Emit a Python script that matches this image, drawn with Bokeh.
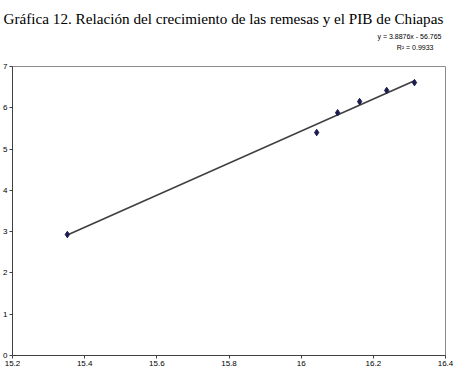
from bokeh.plotting import figure
from bokeh.models import FixedTicker, Range1d, Title
from bokeh.embed import file_html
from bokeh.resources import INLINE

# Data
remesas = [15.352, 16.043, 16.101, 16.162, 16.237, 16.314]
pib = [2.93, 5.40, 5.88, 6.15, 6.42, 6.61]
slope = 3.8876
intercept = -56.765
r2 = 0.9933
x_ticks = [15.2, 15.4, 15.6, 15.8, 16.0, 16.2, 16.4]
x_tick_labels = ["15.2", "15.4", "15.6", "15.8", "16", "16.2", "16.4"]
y_ticks = [0, 1, 2, 3, 4, 5, 6, 7]

title_text = "Gráfica 12. Relación del crecimiento de las remesas y el PIB de Chiapas"

p = figure(width=454, height=376, output_backend="svg", toolbar_location=None,
           x_range=Range1d(15.2, 16.4), y_range=Range1d(0, 7), title=None,
           min_border_left=12, min_border_right=9, min_border_top=66, min_border_bottom=21)

eq_font = dict(text_font="Liberation Sans", text_font_size="7px", text_font_style="normal",
               text_color="black", align="right")
# spacer between frame and equation block
p.add_layout(Title(text=" ", text_font_size="11px", standoff=0), "above")
p.add_layout(Title(text=f"R² = {r2}", offset=12, standoff=3, **eq_font), "above")
p.add_layout(Title(text=f"y = {slope}x - {abs(intercept)}", offset=4, standoff=2, **eq_font), "above")
p.add_layout(Title(text=title_text, text_font="Liberation Serif", text_font_size="15.2px",
                   text_font_style="normal", text_color="black", align="left",
                   offset=-9, standoff=6), "above")

p.grid.visible = False
p.outline_line_color = "#8c8c8c"
p.outline_line_width = 1
p.background_fill_color = "white"
p.border_fill_color = "white"

for ax in (p.xaxis[0], p.yaxis[0]):
    ax.axis_line_color = "#404040"
    ax.axis_line_width = 1
    ax.major_tick_line_color = "#404040"
    ax.major_tick_out = 3
    ax.major_tick_in = 0
    ax.minor_tick_out = 0
    ax.minor_tick_in = 0
    ax.major_label_text_font = "Liberation Sans"
    ax.major_label_text_font_size = "8px"
    ax.major_label_text_color = "black"
    ax.major_label_standoff = 2

p.xaxis[0].ticker = FixedTicker(ticks=x_ticks)
p.xaxis[0].major_label_overrides = {t: l for t, l in zip(x_ticks, x_tick_labels)}
p.yaxis[0].ticker = FixedTicker(ticks=y_ticks)

# Trend line over data extent
x0, x1 = min(remesas), max(remesas)
p.line([x0, x1], [slope * x0 + intercept, slope * x1 + intercept],
       line_color="#404040", line_width=1.6)

p.scatter(remesas, pib, marker="diamond", size=6.5, fill_color="#1c1c50", line_color="#1c1c50")

open("out.html", "w").write(file_html(p, INLINE))
